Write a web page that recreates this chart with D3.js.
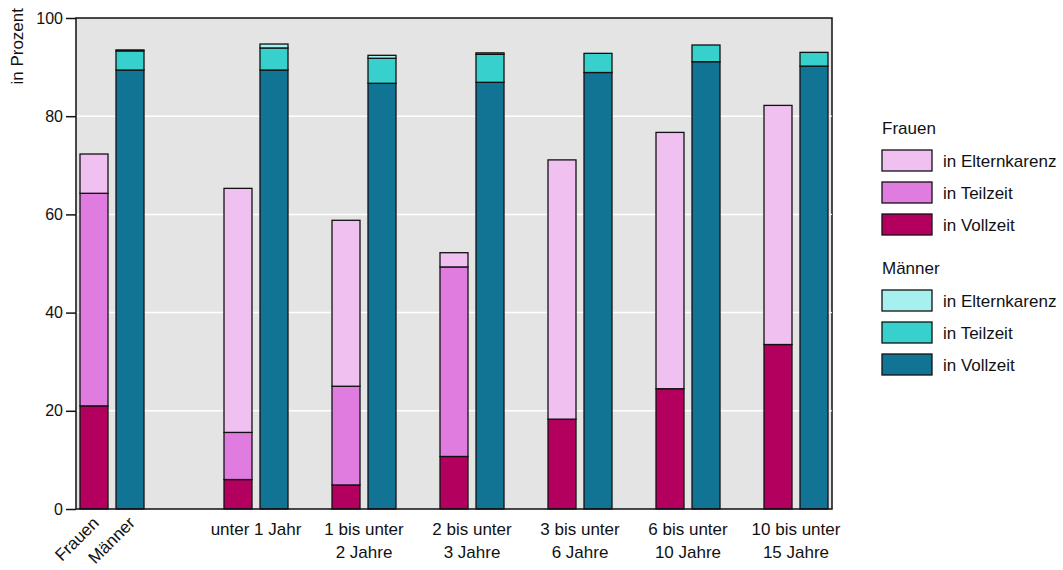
<!DOCTYPE html>
<html><head><meta charset="utf-8">
<script src="https://cdn.jsdelivr.net/npm/d3@7"></script>
<style>body{margin:0;background:#fff;font-family:"Liberation Sans",Arial,sans-serif;}</style>
</head><body><svg id="c" width="1063" height="570"></svg>
<script>
// Categories (groups) and their labels
const groups = ["Gesamt","u1","1-2","2-3","3-6","6-10","10-15"];
const groupLabels = [[""],["unter 1 Jahr"],["1 bis unter","2 Jahre"],["2 bis unter","3 Jahre"],["3 bis unter","6 Jahre"],["6 bis unter","10 Jahre"],["10 bis unter","15 Jahre"]];
// Frauen
const frauenVollzeit = [21.0, 6.0, 4.9, 10.7, 18.3, 24.5, 33.5];
const frauenTeilzeit = [43.3, 9.6, 20.1, 38.6, 0.0, 0.0, 0.0];
const frauenKarenz   = [8.0, 49.7, 33.8, 2.9, 52.8, 52.2, 48.7];
// Männer
const maennerVollzeit = [89.4, 89.4, 86.7, 86.9, 88.9, 91.1, 90.2];
const maennerTeilzeit = [3.9, 4.5, 5.1, 5.7, 3.9, 3.4, 2.8];
const maennerKarenz   = [0.2, 0.8, 0.6, 0.3, 0.0, 0.0, 0.0];
const yTicks = [0,20,40,60,80,100];
const seriesNames = ["in Elternkarenz","in Teilzeit","in Vollzeit"];
const colF = {v:"#b3005f", t:"#e07ce0", k:"#f0c0f0"};
const colM = {v:"#127494", t:"#38d0cc", k:"#a6f0f0"};

const FS = 17;
// slot layout: first group followed by two empty slots, others by one
const slots = [];
groups.forEach((g,i)=>{
  slots.push(g+"|F"); slots.push(g+"|M");
  if(i===0){slots.push("gap0a");slots.push("gap0b");}
  else if(i<groups.length-1) slots.push("gap"+i);
});

const svg = d3.select("#c");
const L=76,R=832,T=18,B=509;
const x = d3.scaleBand().domain(slots).range([L,R]).paddingInner(8/36).paddingOuter(4/36);
const y = d3.scaleLinear().domain([0,100]).range([B,T]);

svg.append("rect").attr("x",L).attr("y",T).attr("width",R-L).attr("height",B-T).attr("fill","#e4e4e4");
svg.append("g").selectAll("line").data(yTicks.filter(t=>t>0&&t<100)).join("line")
  .attr("x1",L).attr("x2",R).attr("y1",d=>y(d)).attr("y2",d=>y(d)).attr("stroke","#fff").attr("stroke-width",1.5);

// bars
const data = [];
groups.forEach((g,i)=>{
  const fv=[frauenVollzeit[i],frauenTeilzeit[i],frauenKarenz[i]];
  const fc=[colF.v,colF.t,colF.k];
  let c=0; fv.forEach((v,j)=>{ if(v>0) data.push({slot:g+"|F",y0:c,y1:c+v,col:fc[j]}); c+=v;});
  const mv=[maennerVollzeit[i],maennerTeilzeit[i],maennerKarenz[i]];
  const mc=[colM.v,colM.t,colM.k];
  c=0; mv.forEach((v,j)=>{ if(v>0) data.push({slot:g+"|M",y0:c,y1:c+v,col:mc[j]}); c+=v;});
});
svg.append("g").selectAll("rect").data(data).join("rect")
  .attr("x",d=>x(d.slot)).attr("width",x.bandwidth())
  .attr("y",d=>y(d.y1)).attr("height",d=>y(d.y0)-y(d.y1))
  .attr("fill",d=>d.col).attr("stroke","#111").attr("stroke-width",1.3);

// frame
svg.append("rect").attr("x",L).attr("y",T).attr("width",R-L).attr("height",B-T).attr("fill","none").attr("stroke","#111").attr("stroke-width",1.5);

// y axis
const ya = svg.append("g").attr("transform",`translate(${L},0)`).call(d3.axisLeft(y).tickValues(yTicks).tickSize(10).tickPadding(3));
ya.select(".domain").remove();
ya.selectAll("line").attr("stroke","#111").attr("stroke-width",1.5);
ya.selectAll("text").attr("font-family","Liberation Sans, Arial, sans-serif").attr("font-size",16).attr("fill","#111");
// right tiny ticks
svg.append("g").selectAll("line").data(yTicks.filter(t=>t>0&&t<100)).join("line")
  .attr("x1",R-2).attr("x2",R).attr("y1",d=>y(d)).attr("y2",d=>y(d)).attr("stroke","#fff");

svg.append("text").attr("transform","translate(23,8) rotate(-90)").attr("text-anchor","end")
  .attr("font-size",FS).attr("fill","#111").text("in Prozent");

// x labels
const g0 = groups[0];
[["Frauen",g0+"|F"],["Männer",g0+"|M"]].forEach(([t,s])=>{
  const cx = x(s)+x.bandwidth()/2;
  svg.append("text").attr("transform",`translate(${cx+6},${B+15}) rotate(-45)`).attr("text-anchor","end")
    .attr("font-size",FS).attr("fill","#111").text(t);
});
groups.forEach((g,i)=>{
  if(i===0) return;
  const cx = (x(g+"|F")+x(g+"|M")+x.bandwidth())/2;
  groupLabels[i].forEach((ln,k)=>{
    svg.append("text").attr("x",cx).attr("y",B+26+k*23).attr("text-anchor","middle")
      .attr("font-size",FS).attr("fill","#111").text(ln);
  });
});

// legend
const lg = svg.append("g");
const sect = [{title:"Frauen",y:128,cols:[colF.k,colF.t,colF.v]},{title:"Männer",y:268,cols:[colM.k,colM.t,colM.v]}];
sect.forEach(s=>{
  lg.append("text").attr("x",882).attr("y",s.y+6).attr("font-size",FS).attr("fill","#111").text(s.title);
  s.cols.forEach((c,j)=>{
    const yy = s.y+22+j*32;
    lg.append("rect").attr("x",882).attr("y",yy).attr("width",50).attr("height",21).attr("fill",c).attr("stroke","#111").attr("stroke-width",1.3);
    lg.append("text").attr("x",943).attr("y",yy+17).attr("font-size",FS).attr("fill","#111").text(seriesNames[j]);
  });
});
</script></body></html>
